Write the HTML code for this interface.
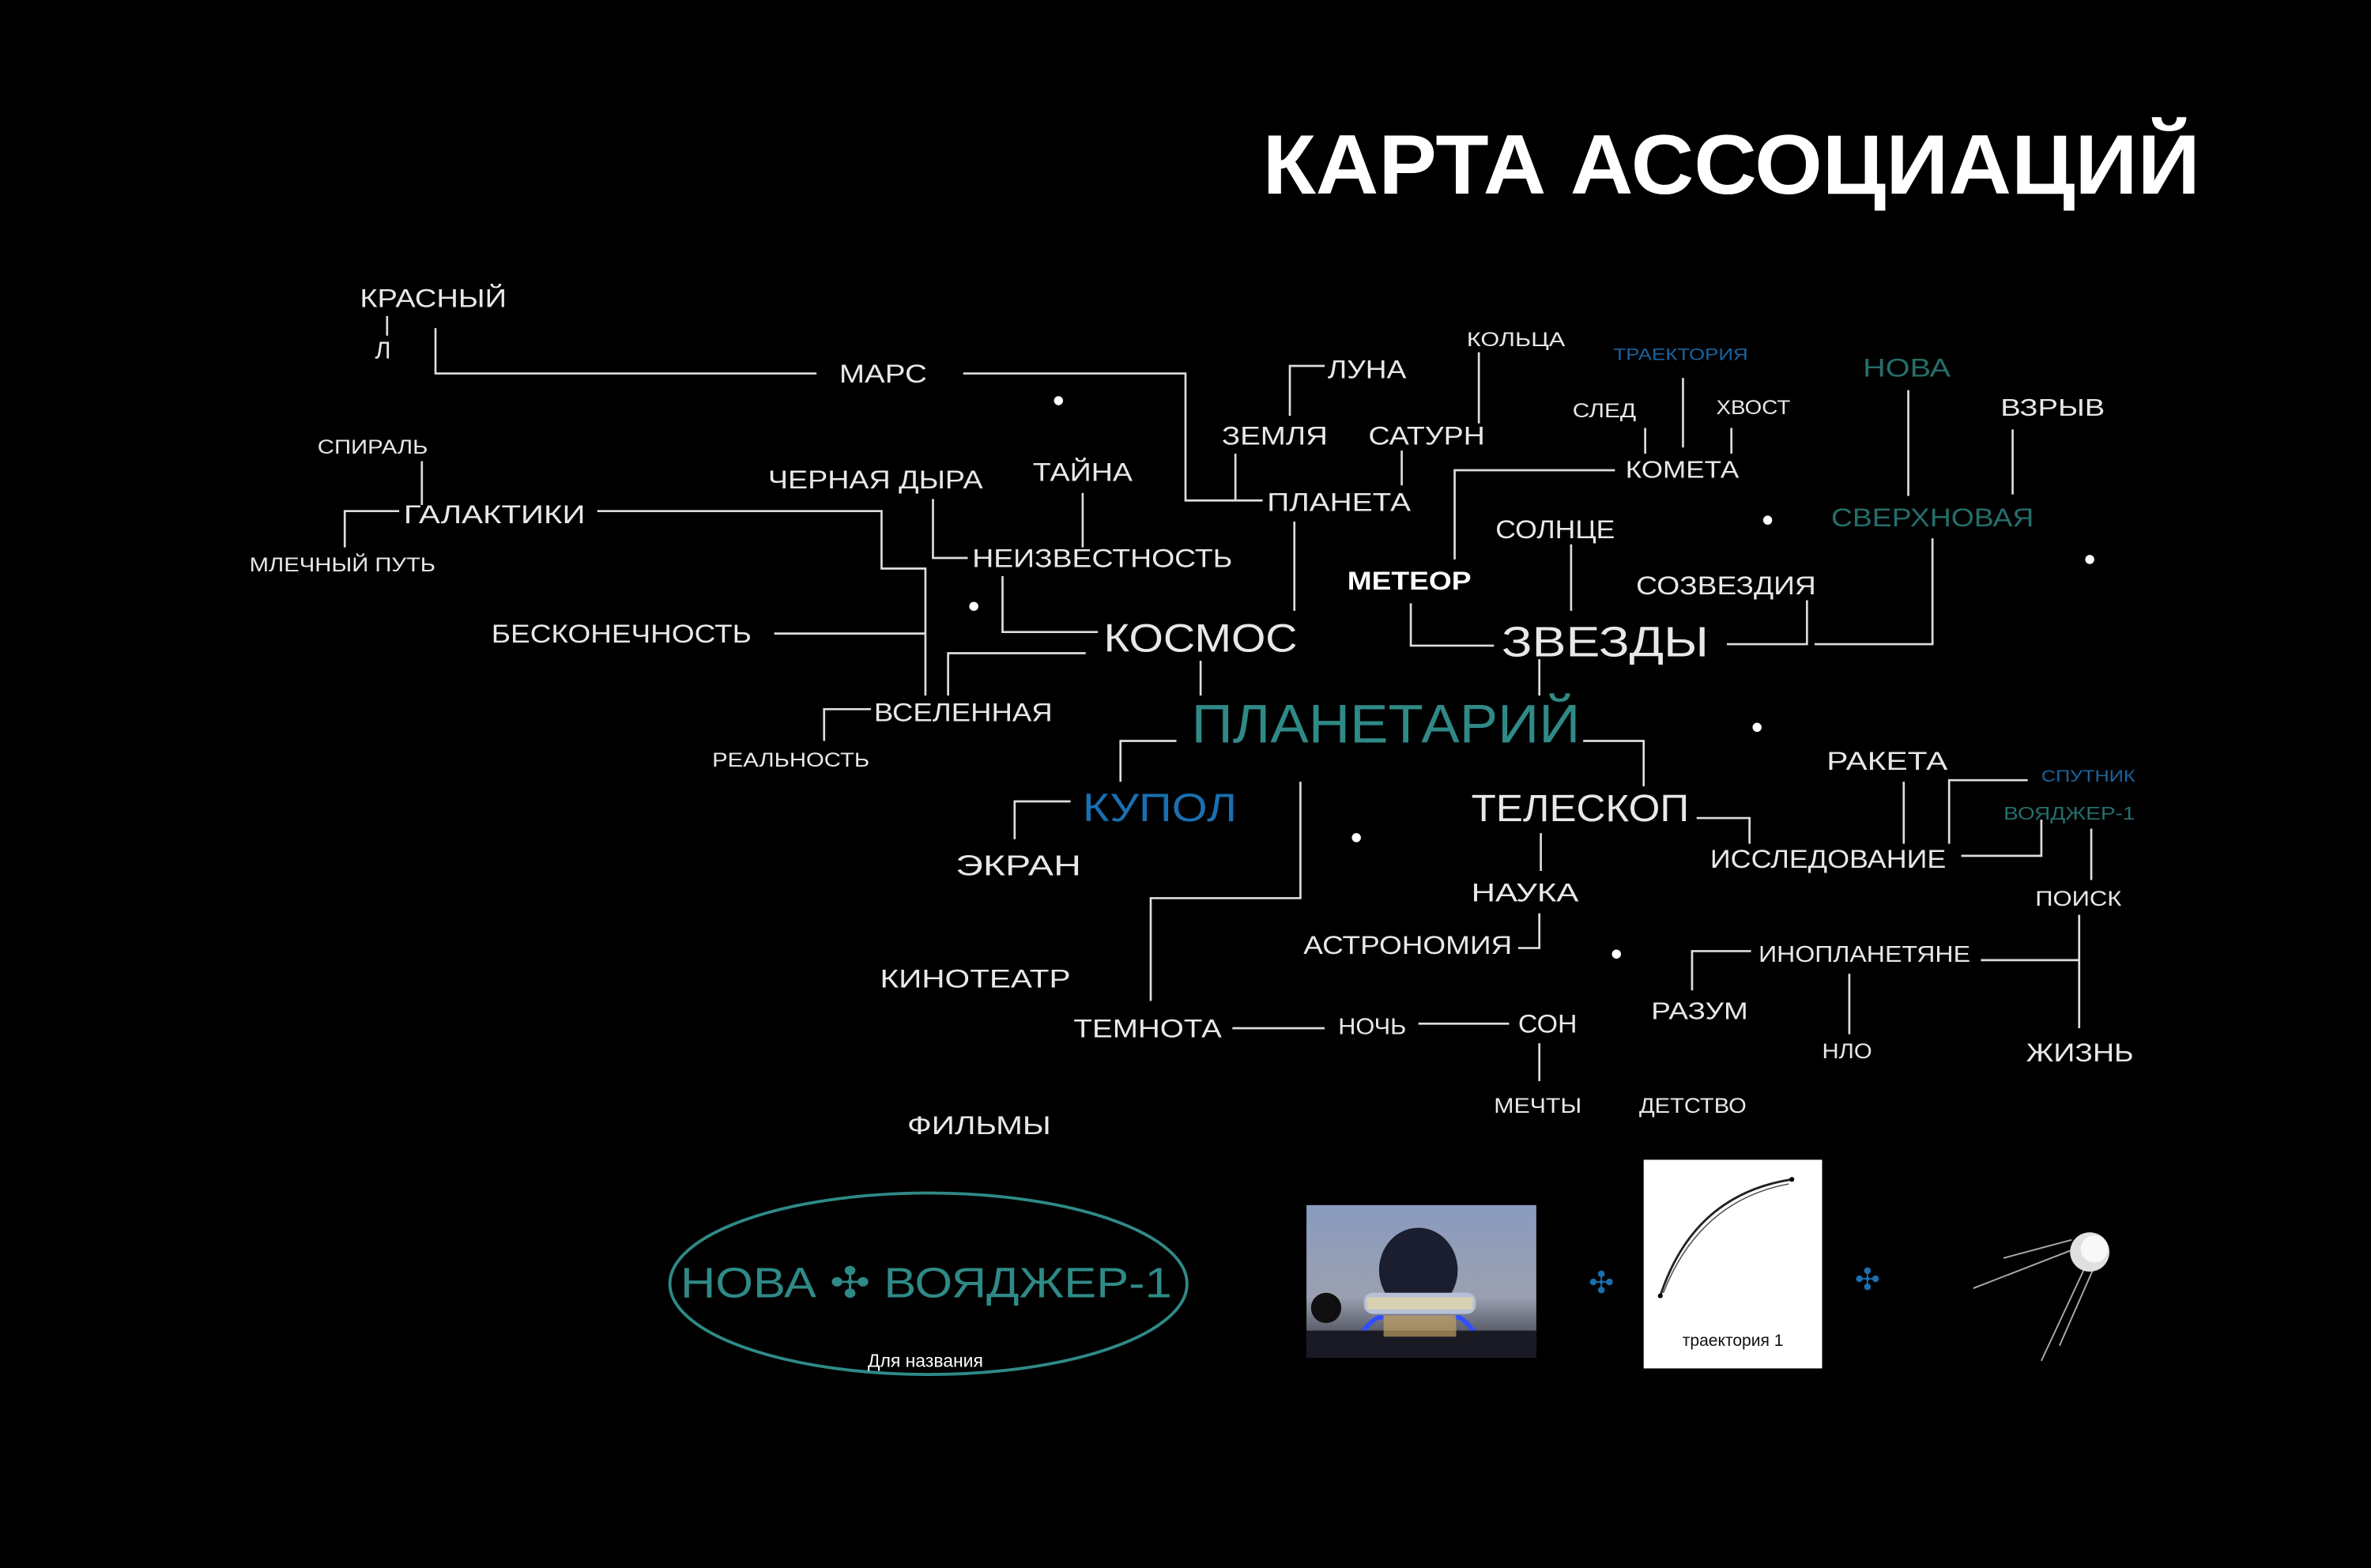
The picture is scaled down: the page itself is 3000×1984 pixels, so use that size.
<!DOCTYPE html>
<html><head><meta charset="utf-8"><style>
html,body{margin:0;padding:0;background:#000;}
svg{display:block}
text{font-family:"Liberation Sans","DejaVu Sans",sans-serif;fill:#e8e8e8}
</style></head><body>
<svg width="3000" height="1984" viewBox="0 0 1568 1037" preserveAspectRatio="none" xmlns="http://www.w3.org/2000/svg">
<rect width="1568" height="1037" fill="#000"/>
<text x="835" y="128" font-size="56" font-weight="bold" textLength="620" lengthAdjust="spacingAndGlyphs" style="fill:#fff">КАРТА АССОЦИАЦИЙ</text>

<g stroke="#ddd" stroke-width="1.4" fill="none">
<polyline points="256,209 256,222"/>
<polyline points="288,217 288,247 540,247"/>
<polyline points="637,247 784,247 784,331 835,331"/>
<polyline points="817,300 817,331"/>
<polyline points="853,275 853,242 876,242"/>
<polyline points="978,233 978,280"/>
<polyline points="927,298 927,321"/>
<polyline points="856,345 856,404"/>
<polyline points="1088,283 1088,300"/>
<polyline points="1113,250 1113,296"/>
<polyline points="1145,283 1145,300"/>
<polyline points="1068,311 962,311 962,370"/>
<polyline points="1262,258 1262,328"/>
<polyline points="1331,284 1331,327"/>
<polyline points="1278,356 1278,426 1200,426"/>
<polyline points="1195,397 1195,426 1142,426"/>
<polyline points="1039,360 1039,404"/>
<polyline points="933,399 933,427 988,427"/>
<polyline points="1018,436 1018,460"/>
<polyline points="794,437 794,460"/>
<polyline points="279,305 279,334"/>
<polyline points="228,362 228,338 264,338"/>
<polyline points="395,338 583,338 583,376 612,376 612,460"/>
<polyline points="512,419 612,419"/>
<polyline points="617,330 617,369 640,369"/>
<polyline points="716,326 716,362"/>
<polyline points="663,381 663,418 726,418"/>
<polyline points="718,432 627,432 627,460"/>
<polyline points="545,490 545,469 576,469"/>
<polyline points="778,490 741,490 741,517"/>
<polyline points="1047,490 1087,490 1087,520"/>
<polyline points="671,555 671,530 708,530"/>
<polyline points="860,517 860,594 761,594 761,662"/>
<polyline points="1122,541 1157,541 1157,558"/>
<polyline points="1019,551 1019,576"/>
<polyline points="1018,604 1018,627 1004,627"/>
<polyline points="1259,517 1259,558"/>
<polyline points="1341,516 1289,516 1289,558"/>
<polyline points="1297,566 1350,566 1350,542"/>
<polyline points="1383,548 1383,582"/>
<polyline points="1375,605 1375,680"/>
<polyline points="1310,635 1375,635"/>
<polyline points="1119,655 1119,629 1158,629"/>
<polyline points="1223,644 1223,684"/>
<polyline points="815,680 876,680"/>
<polyline points="938,677 998,677"/>
<polyline points="1018,690 1018,715"/>
</g>

<g fill="#fff">
<circle cx="700" cy="265" r="3"/><circle cx="644" cy="401" r="3"/><circle cx="1169" cy="344" r="3"/>
<circle cx="1382" cy="370" r="3"/><circle cx="1162" cy="481" r="3"/><circle cx="897" cy="554" r="3"/><circle cx="1069" cy="631" r="3"/>
</g>

<g>
<text x="238" y="203" font-size="17" textLength="97" lengthAdjust="spacingAndGlyphs">КРАСНЫЙ</text>
<text x="248" y="237" font-size="16">Л</text>
<text x="555" y="253" font-size="17" textLength="58" lengthAdjust="spacingAndGlyphs">МАРС</text>
<text x="878" y="250" font-size="17" textLength="52" lengthAdjust="spacingAndGlyphs">ЛУНА</text>
<text x="970" y="229" font-size="13" textLength="65" lengthAdjust="spacingAndGlyphs">КОЛЬЦА</text>
<text x="1067" y="238" font-size="11" textLength="89" lengthAdjust="spacingAndGlyphs" style="fill:#1a64a0">ТРАЕКТОРИЯ</text>
<text x="1232" y="249" font-size="17" textLength="58" lengthAdjust="spacingAndGlyphs" style="fill:#256e6b">НОВА</text>
<text x="1323" y="275" font-size="16" textLength="69" lengthAdjust="spacingAndGlyphs">ВЗРЫВ</text>
<text x="1040" y="276" font-size="13" textLength="42" lengthAdjust="spacingAndGlyphs">СЛЕД</text>
<text x="1135" y="274" font-size="13" textLength="49" lengthAdjust="spacingAndGlyphs">ХВОСТ</text>
<text x="808" y="294" font-size="17" textLength="70" lengthAdjust="spacingAndGlyphs">ЗЕМЛЯ</text>
<text x="905" y="294" font-size="17" textLength="77" lengthAdjust="spacingAndGlyphs">САТУРН</text>
<text x="1075" y="316" font-size="16" textLength="75" lengthAdjust="spacingAndGlyphs">КОМЕТА</text>
<text x="210" y="300" font-size="13" textLength="73" lengthAdjust="spacingAndGlyphs">СПИРАЛЬ</text>
<text x="508" y="323" font-size="17" textLength="142" lengthAdjust="spacingAndGlyphs">ЧЕРНАЯ ДЫРА</text>
<text x="683" y="318" font-size="17" textLength="66" lengthAdjust="spacingAndGlyphs">ТАЙНА</text>
<text x="838" y="338" font-size="17" textLength="95" lengthAdjust="spacingAndGlyphs">ПЛАНЕТА</text>
<text x="267" y="346" font-size="17" textLength="120" lengthAdjust="spacingAndGlyphs">ГАЛАКТИКИ</text>
<text x="1211" y="348" font-size="17" textLength="134" lengthAdjust="spacingAndGlyphs" style="fill:#256e6b">СВЕРХНОВАЯ</text>
<text x="989" y="356" font-size="17" textLength="79" lengthAdjust="spacingAndGlyphs">СОЛНЦЕ</text>
<text x="165" y="378" font-size="13" textLength="123" lengthAdjust="spacingAndGlyphs">МЛЕЧНЫЙ ПУТЬ</text>
<text x="643" y="375" font-size="17" textLength="172" lengthAdjust="spacingAndGlyphs">НЕИЗВЕСТНОСТЬ</text>
<text x="891" y="390" font-size="17" font-weight="bold" textLength="82" lengthAdjust="spacingAndGlyphs" style="fill:#fff">МЕТЕОР</text>
<text x="1082" y="393" font-size="17" textLength="119" lengthAdjust="spacingAndGlyphs">СОЗВЕЗДИЯ</text>
<text x="325" y="425" font-size="17" textLength="172" lengthAdjust="spacingAndGlyphs">БЕСКОНЕЧНОСТЬ</text>
<text x="730" y="431" font-size="26" textLength="128" lengthAdjust="spacingAndGlyphs">КОСМОС</text>
<text x="993" y="434" font-size="28" textLength="137" lengthAdjust="spacingAndGlyphs">ЗВЕЗДЫ</text>
<text x="788" y="491" font-size="36" textLength="257" lengthAdjust="spacingAndGlyphs" style="fill:#2f8a87">ПЛАНЕТАРИЙ</text>
<text x="578" y="477" font-size="17" textLength="118" lengthAdjust="spacingAndGlyphs">ВСЕЛЕННАЯ</text>
<text x="471" y="507" font-size="13" textLength="104" lengthAdjust="spacingAndGlyphs">РЕАЛЬНОСТЬ</text>
<text x="1208" y="509" font-size="17" textLength="80" lengthAdjust="spacingAndGlyphs">РАКЕТА</text>
<text x="1350" y="517" font-size="11" textLength="62" lengthAdjust="spacingAndGlyphs" style="fill:#1a64a0">СПУТНИК</text>
<text x="1325" y="542" font-size="12" textLength="87" lengthAdjust="spacingAndGlyphs" style="fill:#256e6b">ВОЯДЖЕР-1</text>
<text x="716" y="543" font-size="26" textLength="102" lengthAdjust="spacingAndGlyphs" style="fill:#1a6fb0">КУПОЛ</text>
<text x="973" y="543" font-size="25" textLength="144" lengthAdjust="spacingAndGlyphs">ТЕЛЕСКОП</text>
<text x="632" y="579" font-size="19" textLength="83" lengthAdjust="spacingAndGlyphs">ЭКРАН</text>
<text x="1131" y="574" font-size="17" textLength="156" lengthAdjust="spacingAndGlyphs">ИССЛЕДОВАНИЕ</text>
<text x="973" y="596" font-size="17" textLength="71" lengthAdjust="spacingAndGlyphs">НАУКА</text>
<text x="1346" y="599" font-size="14" textLength="57" lengthAdjust="spacingAndGlyphs">ПОИСК</text>
<text x="862" y="631" font-size="17" textLength="138" lengthAdjust="spacingAndGlyphs">АСТРОНОМИЯ</text>
<text x="1163" y="636" font-size="15" textLength="140" lengthAdjust="spacingAndGlyphs">ИНОПЛАНЕТЯНЕ</text>
<text x="582" y="653" font-size="17" textLength="126" lengthAdjust="spacingAndGlyphs">КИНОТЕАТР</text>
<text x="1092" y="674" font-size="16" textLength="64" lengthAdjust="spacingAndGlyphs">РАЗУМ</text>
<text x="710" y="686" font-size="17" textLength="98" lengthAdjust="spacingAndGlyphs">ТЕМНОТА</text>
<text x="885" y="684" font-size="15" textLength="45" lengthAdjust="spacingAndGlyphs">НОЧЬ</text>
<text x="1004" y="683" font-size="17" textLength="39" lengthAdjust="spacingAndGlyphs">СОН</text>
<text x="1205" y="700" font-size="14" textLength="33" lengthAdjust="spacingAndGlyphs">НЛО</text>
<text x="1340" y="702" font-size="17" textLength="71" lengthAdjust="spacingAndGlyphs">ЖИЗНЬ</text>
<text x="988" y="736" font-size="14" textLength="58" lengthAdjust="spacingAndGlyphs">МЕЧТЫ</text>
<text x="1084" y="736" font-size="14" textLength="71" lengthAdjust="spacingAndGlyphs">ДЕТСТВО</text>
<text x="600" y="750" font-size="17" textLength="95" lengthAdjust="spacingAndGlyphs">ФИЛЬМЫ</text>
</g>

<ellipse cx="614" cy="849" rx="171" ry="60" fill="none" stroke="#2f8a87" stroke-width="2"/>
<text x="450" y="858" font-size="28" textLength="325" lengthAdjust="spacingAndGlyphs" style="fill:#2f8a87">НОВА ✣ ВОЯДЖЕР-1</text>
<text x="612" y="904" font-size="12" text-anchor="middle" style="fill:#fff">Для названия</text>

<defs>
<linearGradient id="sky" x1="0" y1="0" x2="0" y2="1">
<stop offset="0" stop-color="#8a9bc0"/><stop offset="0.6" stop-color="#9aa0b0"/><stop offset="1" stop-color="#2a2a35"/>
</linearGradient>
</defs>
<rect x="864" y="797" width="152" height="101" fill="url(#sky)"/>
<ellipse cx="938" cy="840" rx="26" ry="28" fill="#1a1e2e"/>
<rect x="902" y="855" width="74" height="14" rx="6" fill="#b8c0d8"/>
<rect x="904" y="858" width="70" height="8" fill="#d8d0b0"/>
<path d="M898 885 Q910 868 915 872 M978 885 Q966 868 962 872" stroke="#3050ff" stroke-width="3" fill="none"/>
<rect x="864" y="880" width="152" height="18" fill="#1a1a25"/>
<rect x="915" y="870" width="48" height="14" fill="#c0a060" opacity="0.7"/>
<circle cx="877" cy="865" r="10" fill="#101010"/>

<text x="1059" y="855" font-size="20" text-anchor="middle" style="fill:#1a6fb0;font-weight:bold">✣</text>
<text x="1235" y="853" font-size="20" text-anchor="middle" style="fill:#1a6fb0;font-weight:bold">✣</text>

<rect x="1087" y="767" width="118" height="138" fill="#fff"/>
<path d="M1098 857 Q1120 790 1185 780" stroke="#222" stroke-width="1.5" fill="none"/>
<path d="M1100 855 Q1124 794 1183 783" stroke="#555" stroke-width="0.8" fill="none"/>
<circle cx="1098" cy="857" r="1.6" fill="#000"/><circle cx="1185" cy="780" r="1.6" fill="#000"/>
<text x="1146" y="890" font-size="11" text-anchor="middle" style="fill:#111">траектория 1</text>

<g stroke="#aaa" stroke-width="1" fill="none">
<line x1="1370" y1="820" x2="1325" y2="832"/>
<line x1="1372" y1="826" x2="1305" y2="852"/>
<line x1="1378" y1="840" x2="1350" y2="900"/>
<line x1="1384" y1="840" x2="1362" y2="890"/>
</g>
<circle cx="1382" cy="828" r="13" fill="#e0e0e0"/>
<circle cx="1385" cy="826" r="9" fill="#f8f8f8"/>
</svg>
</body></html>
